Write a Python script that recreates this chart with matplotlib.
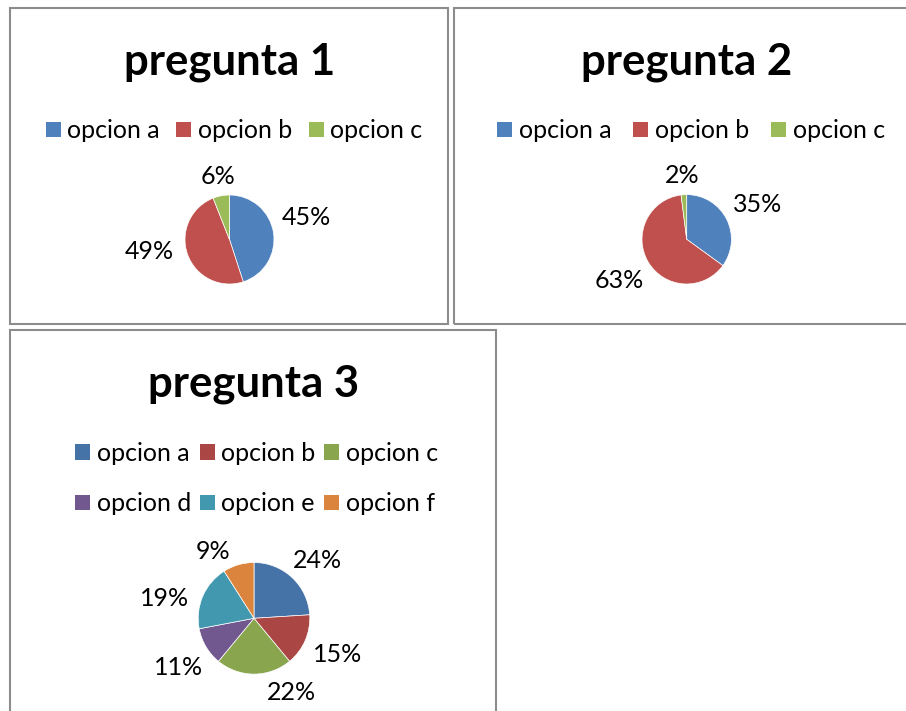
import numpy as np
import matplotlib as mpl
mpl.use('Agg')
import matplotlib.pyplot as plt
from matplotlib.patches import Rectangle, Patch

# datos de la encuesta
titulos = ['pregunta 1', 'pregunta 2', 'pregunta 3']
opciones_1 = ['opcion a', 'opcion b', 'opcion c']
opciones_2 = ['opcion a', 'opcion b', 'opcion c']
opciones_3 = ['opcion a', 'opcion b', 'opcion c', 'opcion d', 'opcion e', 'opcion f']
votos_1 = [45, 49, 6]
votos_2 = [35, 63, 2]
votos_3 = [24, 15, 22, 11, 19, 9]

colores_1 = ['#4F81BD', '#C0504D', '#9BBB59']
colores_3 = ['#4572A7', '#AA4643', '#89A54E', '#71588F', '#4198AF', '#DB843D']

W, H = 906, 711
plt.rcParams['font.family'] = ['Lato', 'DejaVu Sans']
fig = plt.figure(figsize=(W / 100, H / 100), dpi=100)
renderer = fig.canvas.get_renderer()


def fx(x):
    return x / W


def fy(y):
    return 1 - y / H


# marcos (pixeles: izq, arriba, der, abajo)
marcos = [(10, 8, 448, 324), (454, 8, 915, 324), (10, 330, 496, 720)]
for x0, y0, x1, y1 in marcos:
    fig.add_artist(Rectangle((fx(x0), fy(y1)), fx(x1) - fx(x0), fy(y0) - fy(y1),
                             transform=fig.transFigure, fill=False,
                             edgecolor='#8c8c8c', linewidth=1.5))

graficos = [
    dict(titulo=titulos[0], nombres=opciones_1, valores=votos_1, colores=colores_1,
         cx=229.5, cy=239.5, r=44.5, ty=74, lx=234, ly=130.7, colsp=0.65,
         giro=[8, -12, -1]),
    dict(titulo=titulos[1], nombres=opciones_2, valores=votos_2, colores=colores_1,
         cx=686.7, cy=239.3, r=44.7, ty=74, lx=691, ly=130.7, colsp=0.88,
         giro=[0, 0, 0]),
    dict(titulo=titulos[2], nombres=opciones_3, valores=votos_3, colores=colores_3,
         cx=254, cy=618.3, r=55.8, ty=396, lx=256.5, ly=478.5, colsp=0.35,
         giro=[-4, 1, 27, 2, 10, 15]),
]

fs = 18
fs_px = fs * 100 / 72
media_cap = 0.36 * fs_px
hueco = 12

for g in graficos:
    cx, cy, r = g['cx'], g['cy'], g['r']
    fig.text(fx(cx), fy(g['ty']), g['titulo'], ha='center', va='baseline',
             fontsize=31.5, fontweight='bold')

    ax = fig.add_axes([fx(cx - r), fy(cy + r), 2 * r / W, 2 * r / H])
    cunas, _ = ax.pie(g['valores'], colors=g['colores'], startangle=90,
                      counterclock=False,
                      wedgeprops=dict(edgecolor='white', linewidth=0.5))
    ax.set_xlim(-1, 1)
    ax.set_ylim(-1, 1)
    ax.axis('off')

    total = sum(g['valores'])
    for cuna, v, giro in zip(cunas, g['valores'], g['giro']):
        ang = np.deg2rad((cuna.theta1 + cuna.theta2) / 2 + giro)
        ux, uy = np.cos(ang), np.sin(ang)
        t = ax.text(0, 0, f'{round(100 * v / total)}%', ha='center', va='baseline',
                    fontsize=fs, color='black')
        media_w = t.get_window_extent(renderer).width / 2
        d = r + hueco + np.hypot(media_w * ux, media_cap * uy)
        t.set_position((d * ux / r, (d * uy - media_cap) / r))

    n = len(g['nombres'])
    manejadores = [Patch(facecolor=c, edgecolor='none') for c in g['colores']]
    if n == 6:
        orden = [0, 3, 1, 4, 2, 5]
    else:
        orden = list(range(n))
    fig.legend([manejadores[i] for i in orden], [g['nombres'][i] for i in orden],
               loc='center', bbox_to_anchor=(fx(g['lx']), fy(g['ly'])),
               ncol=3, frameon=False, fontsize=fs, handlelength=0.6,
               handleheight=0.56, handletextpad=0.27, columnspacing=g['colsp'],
               labelspacing=1.1, borderpad=0, borderaxespad=0)

fig.savefig('out.png', dpi=100)
